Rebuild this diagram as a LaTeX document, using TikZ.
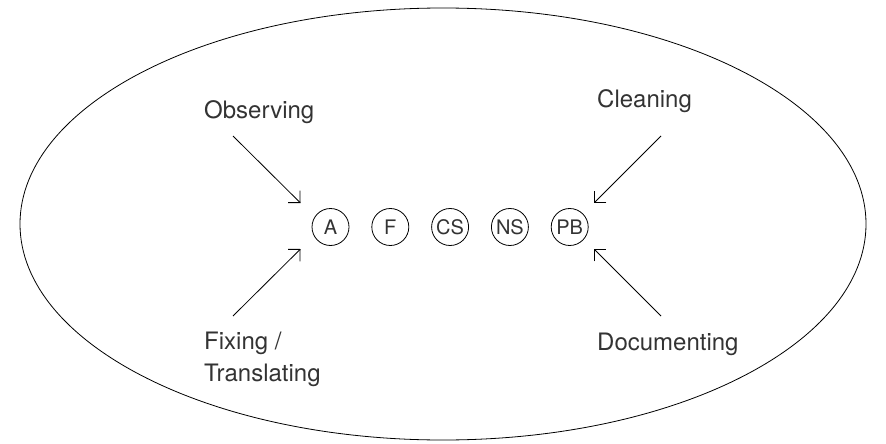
\documentclass[tikz,border=0pt]{standalone}
\usepackage{fontspec}
\setmainfont{TeX Gyre Heros}
\usetikzlibrary{positioning,arrows.meta}
\definecolor{inkgray}{HTML}{333333}
\tikzset{
  stage/.style={circle, draw=black, line width=0.8pt, minimum size=37pt, inner sep=0pt,
    text=inkgray, font=\fontsize{20}{22}\selectfont},
  task/.style={anchor=base west, inner sep=0pt, align=left, text=inkgray,
    font=\fontsize{24}{32.5}\selectfont},
  feed/.style={draw=black, line width=0.8pt,
    -{Straight Barb[length=8.5pt,width=17pt]}}
}

\begin{document}
\begin{tikzpicture}[x=1pt, y=-1pt]
    \useasboundingbox (0,0) rectangle (886,444);
    \draw[line width=0.8pt] (443,224) ellipse [x radius=423, y radius=216];
    %
    \node[stage] (A) at (330.5,227) {A};
    \node[stage, right=22pt of A] (F) {F};
    \node[stage, right=22pt of F] (CS) {CS};
    \node[stage, right=22pt of CS] (NS) {NS};
    \node[stage, right=22pt of NS] (PB) {PB};
    %
    \node[task] (obs) at (204,118) {Observing};
    \node[task] (cln) at (597,107) {Cleaning};
    \node[task] (fix) at (204,381.5) {Fixing /\\Translating};
    \node[task] (doc) at (597,350) {Documenting};
    %
    \node[coordinate] (obsS) at (233,136) {};
    \node[coordinate] (obsE) at (300.5,203) {};
    \node[coordinate] (fixS) at (233,316) {};
    \node[coordinate] (fixE) at (300.5,249) {};
    \node[coordinate] (clnS) at (661,136) {};
    \node[coordinate] (clnE) at (594,203) {};
    \node[coordinate] (docS) at (661,316) {};
    \node[coordinate] (docE) at (594,249) {};
    \draw[feed] (obsS) -- (obsE);
    \draw[feed] (fixS) -- (fixE);
    \draw[feed] (clnS) -- (clnE);
    \draw[feed] (docS) -- (docE);
    % \draw[feed] (obs) -- (A);
\end{tikzpicture}
\end{document}
